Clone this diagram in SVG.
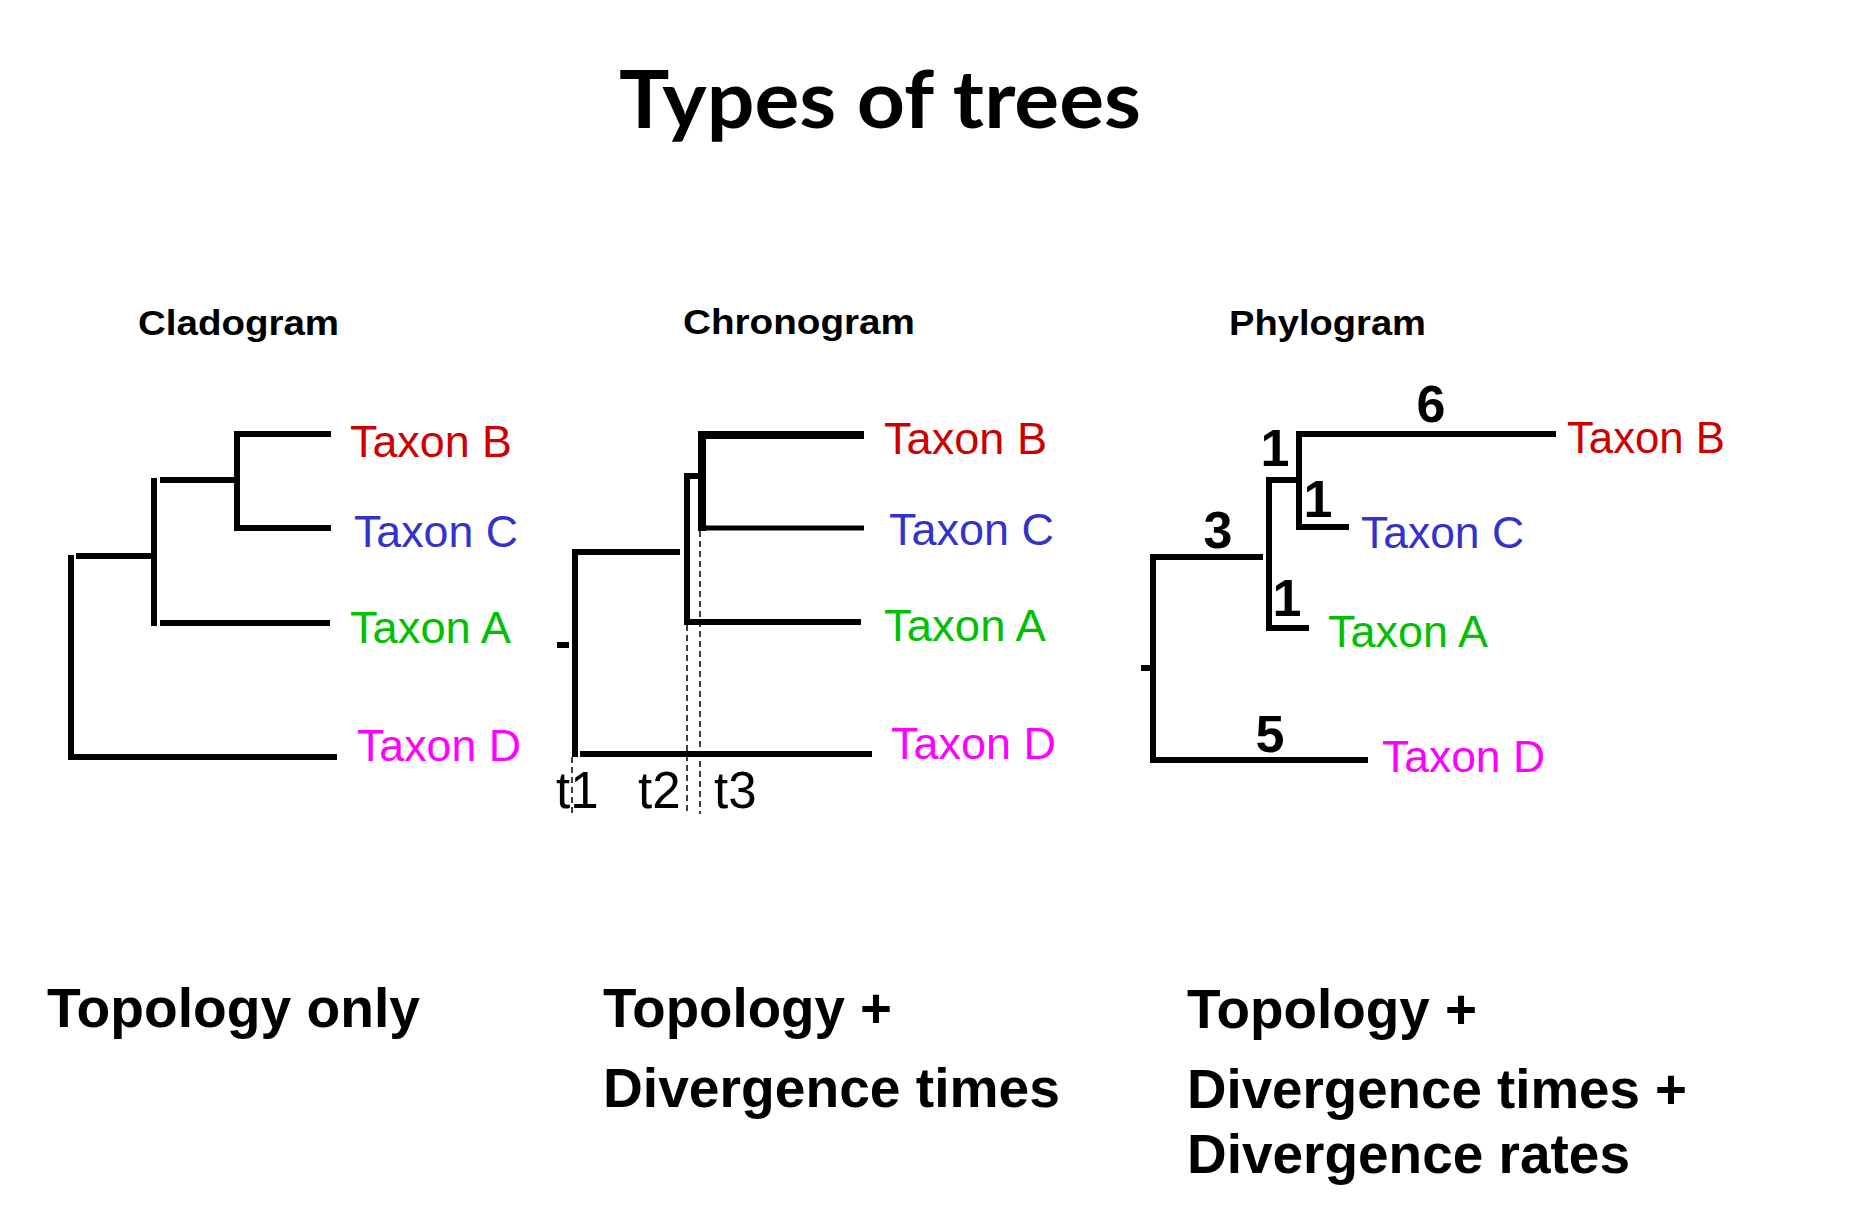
<svg xmlns="http://www.w3.org/2000/svg" width="1874" height="1228" viewBox="0 0 1874 1228">
  <style>
    .title { font-family: Lato, "Open Sans", "Liberation Sans", sans-serif; font-weight: bold; font-size: 80px; fill: #000; }
    .head { font-family: "Liberation Sans", Arial, sans-serif; font-weight: bold; font-size: 35px; fill: #000; }
    .taxon { font-family: "Liberation Sans", Arial, sans-serif; font-size: 45px; }
    .num { font-family: "Liberation Sans", Arial, sans-serif; font-weight: bold; font-size: 52px; fill: #000; text-anchor: middle; }
    .tlab { font-family: "Liberation Sans", Arial, sans-serif; font-size: 51px; fill: #000; }
    .cap { font-family: "Liberation Sans", Arial, sans-serif; font-weight: bold; font-size: 56px; fill: #000; }
    .b { fill: #CC0000; }
    .c { fill: #3333CC; }
    .a { fill: #00C000; }
    .d { fill: #FF00FF; }
    .br { fill: none; stroke: #000; stroke-width: 6; stroke-linecap: butt; }
    .dash { fill: none; stroke: #000; stroke-width: 1.5; stroke-dasharray: 6 4; }
  </style>

  <text id="title" class="title" x="619" y="128" textLength="522" lengthAdjust="spacingAndGlyphs">Types of trees</text>

  <!-- Cladogram -->
  <g id="cladogram">
    <text class="head" x="138" y="335" textLength="201" lengthAdjust="spacingAndGlyphs">Cladogram</text>
    <g class="branches">
      <path class="br" d="M238 434 H331 M237 431 V531 M238 528 H331"/>
      <path class="br" d="M160 480 H234 M154 478 V626 M160 623 H330"/>
      <path class="br" d="M76 556 H152 M71 555 V760 M74 757 H337"/>
    </g>
    <text class="taxon b" x="350" y="457" textLength="162" lengthAdjust="spacingAndGlyphs">Taxon B</text>
    <text class="taxon c" x="354" y="547" textLength="164" lengthAdjust="spacingAndGlyphs">Taxon C</text>
    <text class="taxon a" x="350" y="643" textLength="161" lengthAdjust="spacingAndGlyphs">Taxon A</text>
    <text class="taxon d" x="357" y="761" textLength="164" lengthAdjust="spacingAndGlyphs">Taxon D</text>
  </g>

  <!-- Chronogram -->
  <g id="chronogram">
    <text class="head" x="683" y="334" textLength="232" lengthAdjust="spacingAndGlyphs">Chronogram</text>
    <g class="branches">
      <path class="br" style="stroke-width:8" d="M699 435 H864 M702 431 V531"/>
      <path class="br" style="stroke-width:5" d="M702 528 H864"/>
      <path class="br" d="M684 476 H699 M687 473 V625 M687 622 H861"/>
      <path class="br" d="M574 552 H680 M575 549 V757 M580 754 H872"/>
      <path class="br" d="M557 645 H569"/>
    </g>
    <g class="timelines">
      <path class="dash" d="M572 757 V814 M687 625 V814 M700 531 V814"/>
    </g>
    <text class="tlab" x="556" y="808">t1</text>
    <text class="tlab" x="638" y="808">t2</text>
    <text class="tlab" x="714" y="808">t3</text>
    <text class="taxon b" x="884" y="454" textLength="163" lengthAdjust="spacingAndGlyphs">Taxon B</text>
    <text class="taxon c" x="889" y="545" textLength="165" lengthAdjust="spacingAndGlyphs">Taxon C</text>
    <text class="taxon a" x="884" y="641" textLength="162" lengthAdjust="spacingAndGlyphs">Taxon A</text>
    <text class="taxon d" x="891" y="759" textLength="165" lengthAdjust="spacingAndGlyphs">Taxon D</text>
  </g>

  <!-- Phylogram -->
  <g id="phylogram">
    <text class="head" x="1229" y="335" textLength="197" lengthAdjust="spacingAndGlyphs">Phylogram</text>
    <g class="branches">
      <path class="br" d="M1296 434 H1556 M1299 431 V530 M1299 527 H1349"/>
      <path class="br" d="M1266 480 H1297 M1269 477 V631 M1269 628 H1309"/>
      <path class="br" d="M1150 557 H1263 M1153 554 V763 M1153 760 H1368"/>
      <path class="br" d="M1141 668 H1153"/>
    </g>
    <text class="num" x="1431" y="422">6</text>
    <text class="num" x="1275" y="466">1</text>
    <text class="num" x="1318" y="517">1</text>
    <text class="num" x="1218" y="548">3</text>
    <text class="num" x="1287" y="616">1</text>
    <text class="num" x="1270" y="752">5</text>
    <text class="taxon b" x="1567" y="453" textLength="158" lengthAdjust="spacingAndGlyphs">Taxon B</text>
    <text class="taxon c" x="1361" y="548" textLength="163" lengthAdjust="spacingAndGlyphs">Taxon C</text>
    <text class="taxon a" x="1328" y="647" textLength="160" lengthAdjust="spacingAndGlyphs">Taxon A</text>
    <text class="taxon d" x="1382" y="772" textLength="163" lengthAdjust="spacingAndGlyphs">Taxon D</text>
  </g>

  <!-- Captions -->
  <g id="captions">
    <text class="cap" x="47" y="1027" textLength="373" lengthAdjust="spacingAndGlyphs">Topology only</text>
    <text class="cap" x="603" y="1027" textLength="289" lengthAdjust="spacingAndGlyphs">Topology +</text>
    <text class="cap" x="603" y="1107" textLength="457" lengthAdjust="spacingAndGlyphs">Divergence times</text>
    <text class="cap" x="1187" y="1028" textLength="290" lengthAdjust="spacingAndGlyphs">Topology +</text>
    <text class="cap" x="1187" y="1108" textLength="500" lengthAdjust="spacingAndGlyphs">Divergence times +</text>
    <text class="cap" x="1187" y="1173" textLength="443" lengthAdjust="spacingAndGlyphs">Divergence rates</text>
  </g>
</svg>
